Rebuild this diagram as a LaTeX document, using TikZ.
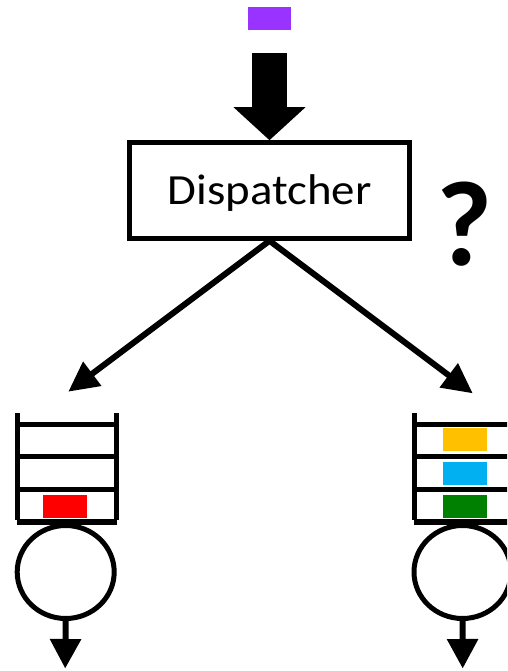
\documentclass[tikz,border=0pt]{standalone}
\usepackage{fontspec}
\setmainfont{Carlito}
\usetikzlibrary{arrows.meta,shapes.geometric}
\definecolor{jobpurple}{HTML}{9933FF}
\definecolor{joborange}{HTML}{FFC000}
\definecolor{jobblue}{HTML}{00B0F0}
\definecolor{jobgreen}{HTML}{008000}
\tikzset{
  item/.style={draw=none, minimum width=44pt, minimum height=23pt, inner sep=0pt},
  qline/.style={line width=5pt},
  server/.style={draw, ellipse, line width=5pt, minimum width=97pt, minimum height=93pt, inner sep=0pt},
  route/.style={line width=6pt, -{Triangle[length=30pt,width=29pt]}},
  outflow/.style={line width=6pt, -{Triangle[length=29.5pt,width=30pt]}},
}
\begin{document}
\begin{tikzpicture}[x=1pt,y=-1pt]
  \clip (0,0) rectangle (507,671);
  \fill[white] (0,0) rectangle (507,671);

  % incoming job and the block arrow to the dispatcher
  \node[item, fill=jobpurple, minimum width=43pt] (job) at (269.5,18.5) {};
  \node[draw, line width=4.5pt, minimum width=280pt, minimum height=96pt, inner sep=0pt] (disp) at (269.5,190.5) {};
  \node[font=\fontsize{43}{50}\selectfont, inner sep=0pt] (disptext) at (269.5,193) {\scalebox{1.09}[1]{Dispatcher}};
  \coordinate (inflow) at (269.5,53);
  \draw[line width=34.4pt, -{Triangle[length=33pt,width=70pt]}] (inflow) -- (disp.north);

  \node[font=\bfseries\fontsize{121}{130}\selectfont, inner sep=0pt] (ask) at (465,224) {?};

  % routing arrows
  \coordinate (tipL) at (68.3,391.7);
  \coordinate (tipR) at (472.7,393.3);
  \draw[route] (disp.south) -- (tipL);
  \draw[route] (disp.south) -- (tipR);

  % left queue
  \draw[qline] (17.3,413) -- (17.3,519.5);
  \draw[qline] (116.7,413) -- (116.7,519.5);
  \foreach \yy in {424,456.7,489.3} \draw[qline] (17.3,\yy) -- (116.7,\yy);
  \draw[line width=5.7pt] (17.3,522) -- (116.7,522);
  \node[item, fill=red] (redjob) at (65.3,506.3) {};
  \node[server] (srvL) at (65.7,572) {};
  \coordinate (outL) at (65.2,668.5);
  \draw[outflow] (srvL.south) -- (outL);

  % right queue
  \draw[qline] (414,413) -- (414,519.5);
  \draw[qline] (513.4,413) -- (513.4,519.5);
  \foreach \yy in {424,456.7,489.3} \draw[qline] (414,\yy) -- (513.4,\yy);
  \draw[line width=5.7pt] (414,522) -- (513.4,522);
  \node[item, fill=joborange] (orangejob) at (465,439.7) {};
  \node[item, fill=jobblue] (bluejob) at (465,473.3) {};
  \node[item, fill=jobgreen] (greenjob) at (465,506.3) {};
  \node[server] (srvR) at (462.5,572) {};
  \coordinate (outR) at (462.7,668.5);
  \draw[outflow] (srvR.south) -- (outR);
\end{tikzpicture}
\end{document}
